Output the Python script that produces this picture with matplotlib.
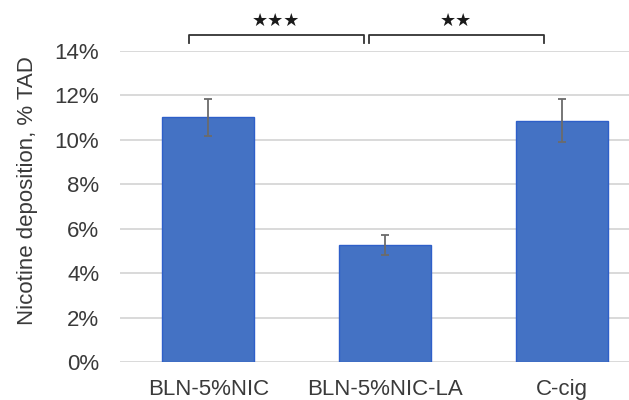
import matplotlib.pyplot as plt
from matplotlib.ticker import FuncFormatter

# nicotine deposition per product, % of total aerosol delivered
groups = ["BLN-5%NIC", "BLN-5%NIC-LA", "C-cig"]
deposition = [11.0, 5.27, 10.85]
errors = [0.85, 0.45, 0.97]

# significance brackets: (start, end, label)
brackets = [(-0.11, 0.88, "★★★"), (0.91, 1.90, "★★")]

plt.rcParams["font.family"] = ["Liberation Sans", "DejaVu Sans"]

fig = plt.figure(figsize=(6.29, 4.0), dpi=100)
ax = fig.add_axes([0.1908, 0.095, 0.843, 0.778])

x = range(len(groups))
ax.bar(x, deposition, width=0.52, color="#4472c4", edgecolor="#2e5fc9",
       linewidth=1, zorder=3)
ax.errorbar(x, deposition, yerr=errors, fmt="none", ecolor="#6b6b6b",
            elinewidth=1.3, capsize=3.2, capthick=1.3, zorder=4)

ax.set_xlim(-0.5, 2.5)
ax.set_ylim(0, 14)
ax.set_yticks(range(0, 15, 2))
ax.yaxis.set_major_formatter(FuncFormatter(lambda v, p: f"{v:.0f}%"))
ax.set_xticks(list(x))
ax.set_xticklabels(groups)
ax.tick_params(axis="both", length=0, labelsize=16, colors="#3a3a3a")
ax.tick_params(axis="y", pad=15)
ax.tick_params(axis="x", pad=12)
ax.grid(axis="y", color="#d9d9d9", linewidth=1.4, zorder=0)
for s in ax.spines.values():
    s.set_visible(False)

ax.set_ylabel("Nicotine deposition, % TAD", fontsize=16, color="#3a3a3a")
ax.yaxis.set_label_coords(-0.155, 0.55)

# brackets above the bars
for x0, x1, label in brackets:
    ax.plot([x0, x0, x1, x1], [14.36, 14.7, 14.7, 14.36], color="#333333",
            linewidth=1.3, clip_on=False, zorder=5)
    ax.text((x0 + x1) / 2 - 0.005, 14.95, label, ha="center", va="bottom",
            fontsize=13, family=["DejaVu Sans"], color="#1a1a1a")

fig.savefig("out.png", dpi=100)
